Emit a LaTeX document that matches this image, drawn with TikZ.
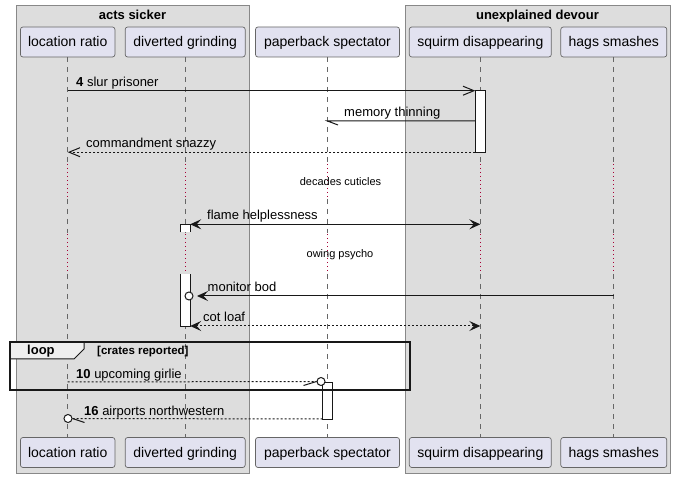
\documentclass[tikz,border=0pt]{standalone}
\usepackage{fontspec}
\setmainfont{Liberation Sans}
\usetikzlibrary{arrows.meta}
\definecolor{partfill}{HTML}{E2E2F0}
\definecolor{grpfill}{HTML}{DDDDDD}
\definecolor{grpline}{HTML}{888888}
\definecolor{delayred}{HTML}{A80036}
\definecolor{lifegray}{HTML}{666666}
\definecolor{tabfill}{HTML}{EEEEEE}
\definecolor{ink}{HTML}{181818}
\begin{document}
\begin{tikzpicture}[x=1pt,y=-1pt,
  part/.style={draw=black!60, fill=partfill, rounded corners=2.5pt, line width=0.7pt,
    minimum height=30pt, inner sep=0pt, outer sep=0pt, text height=10pt, text depth=0pt,
    font=\fontsize{14}{16}\selectfont},
  grp/.style={draw=grpline, fill=grpfill, line width=1pt},
  grptitle/.style={anchor=base, inner sep=0pt, font=\fontsize{13}{15}\selectfont\bfseries},
  life/.style={draw=lifegray, line width=0.8pt, dash pattern=on 5pt off 5pt},
  delay/.style={draw=delayred, line width=1pt, dash pattern=on 1.2pt off 2.8pt},
  act/.style={draw=ink, fill=white, line width=0.9pt, minimum width=10pt, inner sep=0pt, outer sep=0pt},
  actfill/.style={fill=white, draw=none, minimum width=10pt, inner sep=0pt, outer sep=0pt},
  actline/.style={draw=ink, line width=0.9pt},
  msg/.style={draw=ink, line width=1pt},
  dmsg/.style={draw=ink, line width=1pt, dash pattern=on 2pt off 2pt},
  lbl/.style={anchor=base west, inner sep=0pt, font=\fontsize{13}{15}\selectfont},
  dlbl/.style={anchor=base, inner sep=0pt, font=\fontsize{11}{13}\selectfont},
  circ/.style={circle, draw=ink, fill=white, line width=1pt, minimum size=8pt, inner sep=0pt},
  filled/.tip={Stealth[length=11pt,width=10pt,inset=4.5pt]},
  openh/.tip={Straight Barb[length=11pt,width=9pt,line width=1pt]},
]
\useasboundingbox (0,0) rectangle (675,478);
\fill[white] (0,0) rectangle (675,478);

% groups
\draw[grp] (16,6) rectangle (249,473);
\node[grptitle] (gA) at (132.5,19.5) {acts sicker};
\draw[grp] (405,6) rectangle (670,473);
\node[grptitle] (gB) at (537.5,19.5) {unexplained devour};

% participants (top)
\node[part, minimum width=94.5pt] (pA) at (67.7,42) {location ratio};
\node[part, minimum width=120pt] (pB) at (185.2,42) {diverted grinding};
\node[part, minimum width=144pt] (pC) at (327.5,42) {paperback spectator};
\node[part, minimum width=142pt] (pD) at (480.3,42) {squirm disappearing};
\node[part, minimum width=106pt] (pE) at (613.8,42) {hags smashes};
% participants (bottom)
\node[part, minimum width=94.5pt] (qA) at (67.7,452.5) {location ratio};
\node[part, minimum width=120pt] (qB) at (185.2,452.5) {diverted grinding};
\node[part, minimum width=144pt] (qC) at (327.5,452.5) {paperback spectator};
\node[part, minimum width=142pt] (qD) at (480.3,452.5) {squirm disappearing};
\node[part, minimum width=106pt] (qE) at (613.8,452.5) {hags smashes};

% lifelines with delays
\foreach \n in {A,B,C,D,E}{
  \draw[life] (p\n.south) -- (p\n |- 0,163);
  \draw[delay] (p\n |- 0,164) -- (p\n |- 0,198);
  \draw[life] (p\n |- 0,199) -- (p\n |- 0,233);
  \draw[delay] (p\n |- 0,234) -- (p\n |- 0,273);
  \draw[life] (p\n |- 0,274) -- (q\n.north);
}

% delay texts
\node[dlbl] (d1) at (340.5,185.5) {decades cuticles};
\node[dlbl] (d2) at (340,257.5) {owing psycho};

% activations
\node[act, anchor=north, minimum height=61.5pt] (aD) at (pD |- 0,90.7) {};
\node[actfill, anchor=north, minimum height=8pt] (aB1) at (pB |- 0,224.3) {};
\draw[actline] (aB1.south west) -- (aB1.north west) -- (aB1.north east) -- (aB1.south east);
\node[actfill, anchor=north, minimum height=52pt] (aB2) at (pB |- 0,274) {};
\draw[actline] (aB2.north west) -- (aB2.south west) -- (aB2.south east) -- (aB2.north east);
\node[act, anchor=north, minimum height=37pt] (aC) at (pC |- 0,382) {};

% message 1
\coordinate (m1s) at (pA |- aD.north);
\draw[msg, -openh] (m1s) -- (aD.north west);
\node[lbl] (l1) at (76,86.5) {\textbf{4} slur prisoner};

% message 2
\coordinate (m2s) at (aD.west |- 0,121);
\coordinate (m2e) at (pC |- 0,121);
\draw[msg] (m2s) -- (m2e) -- ++(10.5,4);
\node[lbl] (l2) at (344,117) {memory thinning};

% message 3
\coordinate (m3e) at (pA |- aD.south);
\draw[dmsg, -openh] (aD.south west) -- (m3e);
\node[lbl] (l3) at (86,148) {commandment snazzy};

% message 5
\coordinate (m5e) at (pD |- aB1.north);
\draw[msg, filled-filled] (aB1.north east) -- (m5e);
\node[lbl] (l5) at (207,220) {flame helplessness};

% message 7
\node[circ] (c7) at (189,296) {};
\coordinate (m7s) at (pE |- c7);
\draw[msg, -filled] (m7s) -- ([xshift=3.5pt]c7.east);
\node[lbl] (l7) at (207.5,292) {monitor bod};

% message 8
\coordinate (m8e) at (pD |- aB2.south);
\draw[dmsg, filled-filled] (aB2.south east) -- (m8e);
\node[lbl] (l8) at (203,322) {cot loaf};

% message 10
\node[circ] (c10) at (321,381.5) {};
\coordinate (m10s) at (pA |- 0,382);
\draw[dmsg] (m10s) -- (c10.west);
\draw[msg] (c10.west) -- ++(-13,4);
\node[lbl] (l10) at (76,378) {\textbf{10} upcoming girlie};

% message 11
\node[circ] (c11) at (68,418.5) {};
\draw[dmsg] (aC.south west) -- (c11.east);
\draw[msg] (c11.east) -- ++(12,4);
\node[lbl] (l11) at (84,415) {\textbf{16} airports northwestern};

% loop frame
\draw[draw=ink, fill=tabfill, line width=1pt] (10,342) -- (84,342) -- (84,349) -- (74,359) -- (10,359) -- cycle;
\draw[draw=ink, line width=1.6pt] (10,342) rectangle (410,390);
\node[anchor=base west, inner sep=0pt, font=\fontsize{13}{15}\selectfont\bfseries] (loopl) at (27,355) {loop};
\node[anchor=base west, inner sep=0pt, font=\fontsize{11.5}{13}\selectfont\bfseries] (guard) at (97,354.5) {[crates reported]};
\end{tikzpicture}
\end{document}
